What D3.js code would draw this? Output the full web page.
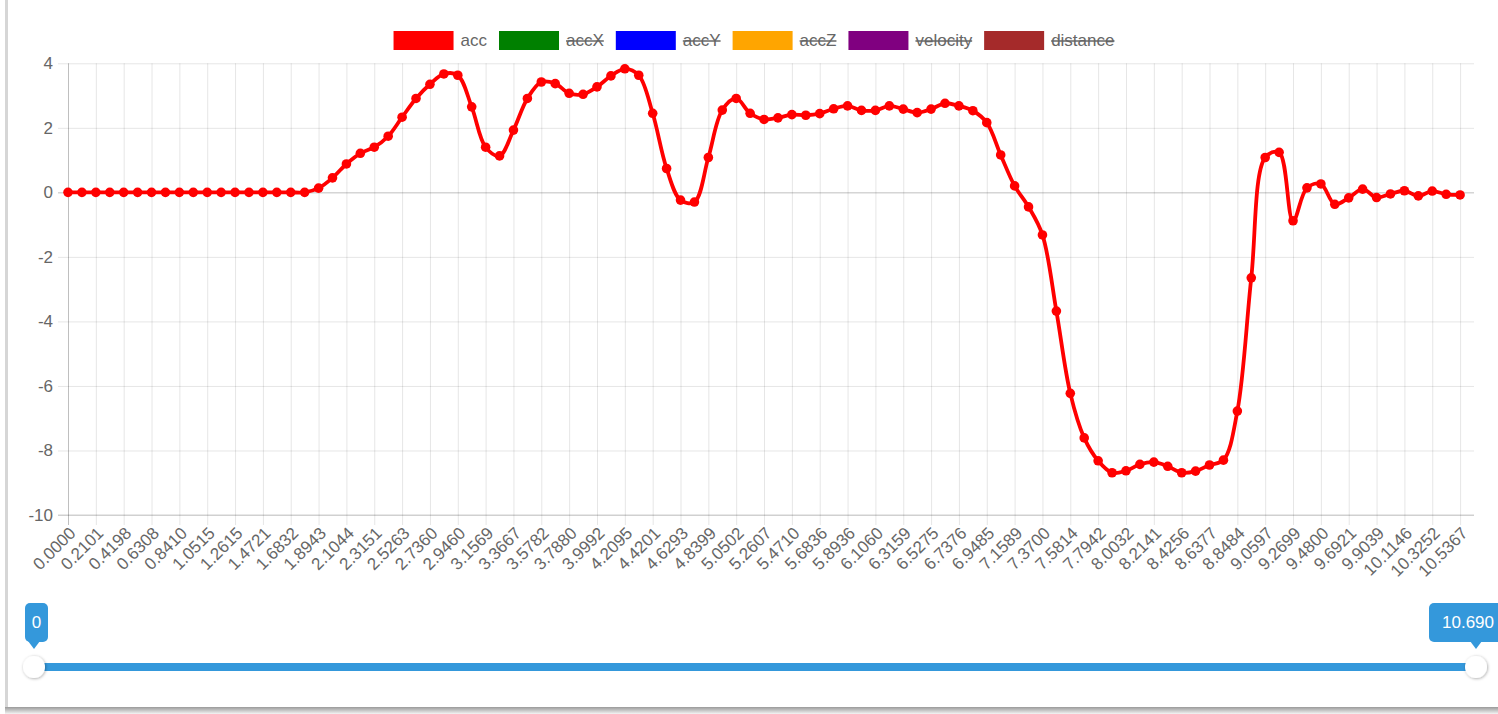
<!DOCTYPE html>
<html>
<head>
<meta charset="utf-8">
<script src="https://cdn.jsdelivr.net/npm/d3@7"></script>
<style>
	body { margin: 0; background: #fff; }
	svg { display: block; font-family: "Liberation Sans", Arial, sans-serif; }
</style>
</head>
<body>
<script>
// legend entries (only acc is switched on)
const legendLabels = ["acc", "accX", "accY", "accZ", "velocity", "distance"];
const legendColors = ["#ff0000", "#008000", "#0000ff", "#ffa500", "#800080", "#a52a2a"];
const legendHidden = [false, true, true, true, true, true];

// x tick labels, one shown for every second sample
const tickLabels = [
	"0.0000", "0.2101", "0.4198", "0.6308", "0.8410", "1.0515", "1.2615", "1.4721", "1.6832", "1.8943",
	"2.1044", "2.3151", "2.5263", "2.7360", "2.9460", "3.1569", "3.3667", "3.5782", "3.7880", "3.9992",
	"4.2095", "4.4201", "4.6293", "4.8399", "5.0502", "5.2607", "5.4710", "5.6836", "5.8936", "6.1060",
	"6.3159", "6.5275", "6.7376", "6.9485", "7.1589", "7.3700", "7.5814", "7.7942", "8.0032", "8.2141",
	"8.4256", "8.6377", "8.8484", "9.0597", "9.2699", "9.4800", "9.6921", "9.9039", "10.1146", "10.3252",
	"10.5367"
];

// acc series, one value per sample
const accValues = [
	0, 0, 0, 0, 0, 0, 0, 0, 0, 0,
	0, 0, 0, 0, 0, 0, 0, 0, 0.13, 0.45,
	0.88, 1.21, 1.40, 1.74, 2.33, 2.91, 3.35, 3.67, 3.63, 2.65,
	1.40, 1.13, 1.93, 2.91, 3.42, 3.37, 3.07, 3.04, 3.27, 3.61,
	3.83, 3.63, 2.45, 0.74, -0.24, -0.30, 1.08, 2.55, 2.91, 2.45,
	2.26, 2.31, 2.41, 2.39, 2.44, 2.59, 2.68, 2.54, 2.54, 2.68,
	2.58, 2.47, 2.58, 2.76, 2.68, 2.53, 2.16, 1.16, 0.20, -0.45,
	-1.32, -3.68, -6.23, -7.61, -8.32, -8.69, -8.63, -8.43, -8.36, -8.49,
	-8.69, -8.64, -8.45, -8.30, -6.78, -2.65, 1.08, 1.24, -0.88, 0.14,
	0.26, -0.37, -0.17, 0.10, -0.16, -0.05, 0.05, -0.11, 0.04, -0.06,
	-0.08
];

const yTicks = [-10, -8, -6, -4, -2, 0, 2, 4];
const sliderRange = [0, 10.690];
const sliderLabels = ["0", "10.690"];

const width = 1498;
const height = 714;
const plot = { left: 68, right: 1474, top: 63.3, bottom: 515 };
const fontSize = 17;
const textColor = "#666";

let svg = d3.select("body")
	.append("svg")
	.attr("width", width)
	.attr("height", height);

createFrame();
let scales = createScales();
createAxis(scales);
createLine(scales);
createLegend();
createSlider();

function createScales() {
	let xScale = d3.scaleLinear()
		.domain([0, accValues.length])
		.range([plot.left, plot.right]);
	let yScale = d3.scaleLinear()
		.domain([-10, 4])
		.range([plot.bottom, plot.top]);
	return [xScale, yScale];
}

function createFrame() {
	let defs = svg.append("defs");
	let grad = defs.append("linearGradient")
		.attr("id", "bottomShade")
		.attr("x1", 0).attr("y1", 0).attr("x2", 0).attr("y2", 1);
	grad.append("stop").attr("offset", "0%").attr("stop-color", "#9a9a9a");
	grad.append("stop").attr("offset", "100%").attr("stop-color", "#f4f4f4");

	let shadow = defs.append("filter")
		.attr("id", "dotShadow")
		.attr("x", "-50%").attr("y", "-50%").attr("width", "200%").attr("height", "200%");
	shadow.append("feDropShadow")
		.attr("dx", 0.7).attr("dy", 0.7)
		.attr("stdDeviation", 1.5)
		.attr("flood-color", "#000")
		.attr("flood-opacity", 0.35);

	svg.append("rect")
		.attr("x", 5).attr("y", 0)
		.attr("width", 3).attr("height", 708)
		.attr("fill", "#d6d6d6");
	svg.append("rect")
		.attr("x", 5).attr("y", 707)
		.attr("width", width - 5).attr("height", 7)
		.attr("fill", "url(#bottomShade)");
}

function createAxis(scaleArray) {
	let xScale = scaleArray[0];
	let yScale = scaleArray[1];
	let tickLen = 10;

	let yAxis = d3.axisLeft(yScale)
		.tickValues(yTicks)
		.tickFormat((d) => String(d))
		.tickSizeInner(-(plot.right - plot.left + tickLen))
		.tickSizeOuter(0)
		.tickPadding(5);

	let gy = svg.append("g")
		.attr("id", "y-axis")
		.attr("transform", "translate(" + (plot.left - tickLen) + ",0)")
		.call(yAxis);
	gy.select(".domain").remove();
	gy.selectAll("line")
		.attr("stroke", (d) => (d === 0 ? "rgba(0,0,0,0.25)" : "rgba(0,0,0,0.1)"));
	gy.selectAll("text")
		.attr("fill", textColor)
		.style("font-size", fontSize + "px");

	let xTicks = d3.range(0, accValues.length, 2);
	let xAxis = d3.axisBottom(xScale)
		.tickValues(xTicks)
		.tickFormat((d) => tickLabels[d / 2])
		.tickSizeInner(-(plot.bottom + tickLen - plot.top))
		.tickSizeOuter(0);

	let gx = svg.append("g")
		.attr("id", "x-axis")
		.attr("transform", "translate(0," + (plot.bottom + tickLen) + ")")
		.call(xAxis);
	gx.select(".domain").remove();
	gx.selectAll("line")
		.attr("stroke", (d) => (d === 0 ? "rgba(0,0,0,0.25)" : "rgba(0,0,0,0.1)"));
	gx.selectAll("text")
		.attr("fill", textColor)
		.style("font-size", fontSize + "px")
		.attr("text-anchor", "end")
		.attr("x", 0)
		.attr("y", 0)
		.attr("dy", "0.35em")
		.attr("transform", "translate(4,5) rotate(-45)");

	// bottom border of the plot
	svg.append("line")
		.attr("x1", plot.left - tickLen).attr("x2", plot.right)
		.attr("y1", yScale(-10)).attr("y2", yScale(-10))
		.attr("stroke", "rgba(0,0,0,0.18)");
}

function createLine(scaleArray) {
	let xScale = scaleArray[0];
	let yScale = scaleArray[1];

	let line = d3.line()
		.x((d, i) => xScale(i))
		.y((d) => yScale(d))
		.curve(d3.curveCatmullRom.alpha(0.5));

	svg.append("path")
		.datum(accValues)
		.attr("d", line)
		.attr("fill", "none")
		.attr("stroke", legendColors[0])
		.attr("stroke-width", 3.8);

	svg.append("g")
		.selectAll("circle")
		.data(accValues)
		.enter()
		.append("circle")
		.attr("cx", (d, i) => xScale(i))
		.attr("cy", (d) => yScale(d))
		.attr("r", 4.8)
		.attr("fill", legendColors[0]);
}

function createLegend() {
	let boxW = 60;
	let boxH = 19;
	let gap = 7;
	let itemPad = 12;
	let centre = 754;
	let boxY = 31;

	let g = svg.append("g").attr("id", "legend");
	let items = g.selectAll("g")
		.data(legendLabels)
		.enter()
		.append("g");

	items.append("rect")
		.attr("width", boxW)
		.attr("height", boxH)
		.attr("y", boxY)
		.attr("fill", (d, i) => legendColors[i]);

	items.append("text")
		.text((d) => d)
		.attr("x", boxW + gap)
		.attr("y", boxY + boxH / 2)
		.attr("dy", "0.35em")
		.attr("fill", textColor)
		.style("font-size", fontSize + "px");

	let widths = [];
	items.selectAll("text").each(function () {
		widths.push(this.getComputedTextLength());
	});
	let total = d3.sum(widths, (w) => boxW + gap + w) + itemPad * (widths.length - 1);
	let cursor = centre - total / 2;

	items.each(function (d, i) {
		d3.select(this).attr("transform", "translate(" + cursor + ",0)");
		if (legendHidden[i]) {
			d3.select(this)
				.append("line")
				.attr("x1", boxW + gap)
				.attr("x2", boxW + gap + widths[i])
				.attr("y1", boxY + boxH / 2 + 0.5)
				.attr("y2", boxY + boxH / 2 + 0.5)
				.attr("stroke", textColor)
				.attr("stroke-width", 1.5);
		}
		cursor += boxW + gap + widths[i] + itemPad;
	});
}

function createSlider() {
	let sliderX = d3.scaleLinear()
		.domain(sliderRange)
		.range([34, 1476]);
	let trackY = 667;
	let blue = "#3498db";

	svg.append("line")
		.attr("x1", sliderX(sliderRange[0]))
		.attr("x2", sliderX(sliderRange[1]))
		.attr("y1", trackY).attr("y2", trackY)
		.attr("stroke", blue)
		.attr("stroke-width", 8);

	// tooltip boxes above each handle
	let tips = [
		{ left: 25, w: 23, value: sliderRange[0], label: sliderLabels[0] },
		{ left: 1429, w: 78, value: sliderRange[1], label: sliderLabels[1] }
	];
	let top = 603;
	let boxH = 39;

	tips.forEach((t) => {
		let px = sliderX(t.value);
		svg.append("rect")
			.attr("x", t.left).attr("y", top)
			.attr("width", t.w).attr("height", boxH)
			.attr("rx", 5)
			.attr("fill", blue);
		svg.append("path")
			.attr("d", "M" + (px - 6) + "," + (top + boxH - 1) + "L" + (px + 6) + "," + (top + boxH - 1) + "L" + px + "," + (top + boxH + 7) + "Z")
			.attr("fill", blue);
		svg.append("text")
			.text(t.label)
			.attr("x", t.left + t.w / 2)
			.attr("y", top + boxH / 2)
			.attr("dy", "0.35em")
			.attr("text-anchor", "middle")
			.attr("fill", "#fff")
			.style("font-size", fontSize + "px");
	});

	svg.selectAll(".handle")
		.data(sliderRange)
		.enter()
		.append("circle")
		.attr("class", "handle")
		.attr("cx", (d) => sliderX(d))
		.attr("cy", trackY)
		.attr("r", 11)
		.attr("fill", "#fff")
		.attr("filter", "url(#dotShadow)");
}
</script>
</body>
</html>
